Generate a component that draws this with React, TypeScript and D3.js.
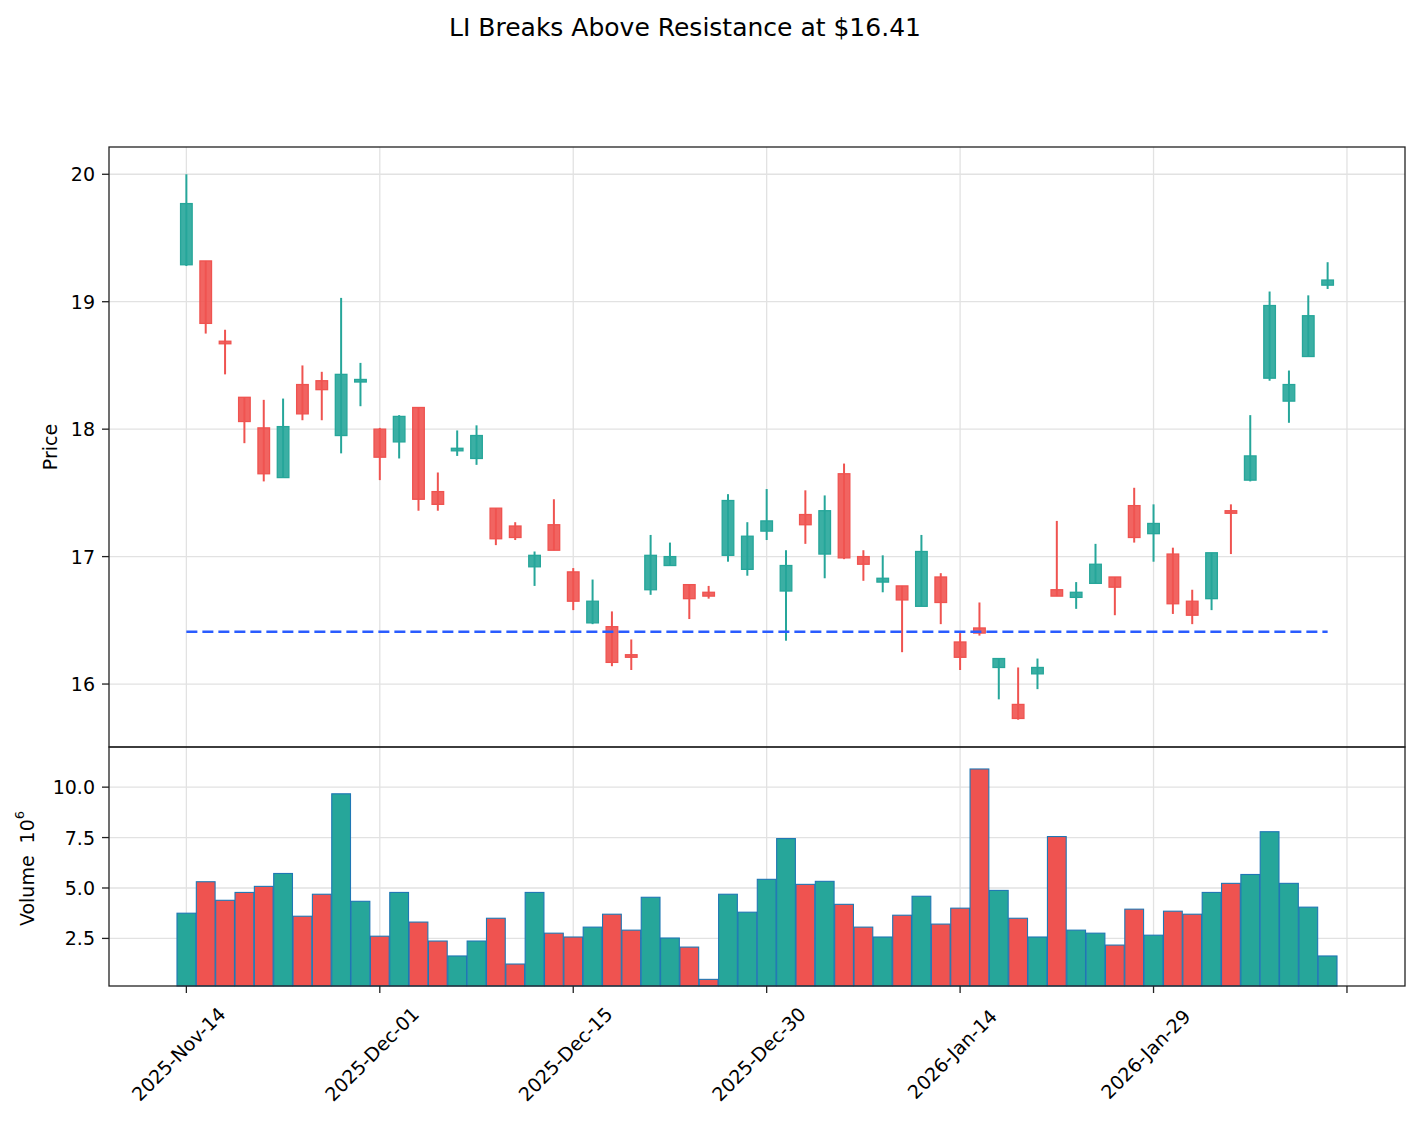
import React from "react";
import * as d3 from "d3";

// trading days, one per candle
const dates = [
  "2025-11-14", "2025-11-17", "2025-11-18", "2025-11-19", "2025-11-20", "2025-11-21",
  "2025-11-24", "2025-11-25", "2025-11-26", "2025-11-28", "2025-12-01", "2025-12-02",
  "2025-12-03", "2025-12-04", "2025-12-05", "2025-12-08", "2025-12-09", "2025-12-10",
  "2025-12-11", "2025-12-12", "2025-12-15", "2025-12-16", "2025-12-17", "2025-12-18",
  "2025-12-19", "2025-12-22", "2025-12-23", "2025-12-24", "2025-12-26", "2025-12-29",
  "2025-12-30", "2025-12-31", "2026-01-02", "2026-01-05", "2026-01-06", "2026-01-07",
  "2026-01-08", "2026-01-09", "2026-01-12", "2026-01-13", "2026-01-14", "2026-01-15",
  "2026-01-16", "2026-01-20", "2026-01-21", "2026-01-22", "2026-01-23", "2026-01-26",
  "2026-01-27", "2026-01-28", "2026-01-29", "2026-01-30", "2026-02-02", "2026-02-03",
  "2026-02-04", "2026-02-05", "2026-02-06", "2026-02-09", "2026-02-10", "2026-02-11",
];

const opens = [
  19.29, 19.32, 18.69, 18.25, 18.01, 17.62, 18.35, 18.38, 17.95, 18.37,
  18.0, 17.9, 18.17, 17.51, 17.83, 17.77, 17.38, 17.24, 16.92, 17.25,
  16.88, 16.48, 16.45, 16.23, 16.74, 16.93, 16.78, 16.72, 17.01, 16.9,
  17.2, 16.73, 17.33, 17.02, 17.65, 17.0, 16.8, 16.77, 16.61, 16.84,
  16.33, 16.44, 16.13, 15.84, 16.08, 16.74, 16.68, 16.79, 16.84, 17.4,
  17.18, 17.02, 16.65, 16.67, 17.36, 17.6, 18.4, 18.22, 18.57, 19.13,
];
const highs = [
  20.0, 19.32, 18.78, 18.25, 18.23, 18.24, 18.5, 18.45, 19.03, 18.52,
  18.01, 18.11, 18.17, 17.66, 17.99, 18.03, 17.38, 17.27, 17.04, 17.45,
  16.91, 16.82, 16.57, 16.35, 17.17, 17.11, 16.78, 16.77, 17.49, 17.27,
  17.53, 17.05, 17.52, 17.48, 17.73, 17.05, 17.01, 16.77, 17.17, 16.87,
  16.4, 16.64, 16.2, 16.13, 16.2, 17.28, 16.8, 17.1, 16.84, 17.54,
  17.41, 17.07, 16.74, 17.03, 17.41, 18.11, 19.08, 18.46, 19.05, 19.31,
];
const lows = [
  19.28, 18.75, 18.43, 17.89, 17.59, 17.62, 18.07, 18.07, 17.81, 18.18,
  17.6, 17.77, 17.36, 17.36, 17.79, 17.72, 17.09, 17.13, 16.77, 17.05,
  16.58, 16.47, 16.14, 16.11, 16.7, 16.93, 16.51, 16.67, 16.96, 16.85,
  17.13, 16.34, 17.1, 16.83, 16.98, 16.81, 16.72, 16.25, 16.61, 16.47,
  16.11, 16.38, 15.88, 15.72, 15.96, 16.69, 16.59, 16.79, 16.54, 17.11,
  16.96, 16.55, 16.47, 16.58, 17.02, 17.59, 18.38, 18.05, 18.57, 19.1,
];
const closes = [
  19.77, 18.83, 18.67, 18.06, 17.65, 18.02, 18.12, 18.31, 18.43, 18.39,
  17.78, 18.1, 17.45, 17.41, 17.85, 17.95, 17.14, 17.15, 17.01, 17.05,
  16.65, 16.65, 16.17, 16.21, 17.01, 17.0, 16.67, 16.69, 17.44, 17.16,
  17.28, 16.93, 17.25, 17.36, 16.99, 16.94, 16.83, 16.66, 17.04, 16.64,
  16.21, 16.4, 16.2, 15.73, 16.13, 16.69, 16.72, 16.94, 16.76, 17.15,
  17.26, 16.63, 16.54, 17.03, 17.34, 17.79, 18.97, 18.35, 18.89, 19.17,
];
const volumeMillions = [
  3.75, 5.31, 4.39, 4.78, 5.08, 5.72, 3.6, 4.69, 9.67, 4.34,
  2.61, 4.78, 3.31, 2.37, 1.63, 2.37, 3.5, 1.23, 4.78, 2.76,
  2.57, 3.06, 3.7, 2.91, 4.54, 2.52, 2.07, 0.47, 4.69, 3.8,
  5.43, 7.45, 5.18, 5.33, 4.19, 3.06, 2.57, 3.65, 4.59, 3.21,
  4.0, 10.9, 4.88, 3.5, 2.57, 7.55, 2.91, 2.76, 2.17, 3.95,
  2.66, 3.85, 3.7, 4.78, 5.23, 5.67, 7.79, 5.23, 4.05, 1.63,
];
const volumeTicks = [2.5, 5.0, 7.5, 10.0];
const resistance = 16.41;
const title = "LI Breaks Above Resistance at $16.41";

const UP = "#26a69a";
const DOWN = "#ef5350";
const FONT = "DejaVu Sans, sans-serif";

export default function App() {
  const W = 1420, H = 1126;
  const left = 109, right = 1405, top = 147, split = 747, bottom = 986;
  const n = dates.length;

  const x = d3.scaleLinear().domain([-4, n + 3]).range([left, right]);
  const unit = x(1) - x(0);

  const lo = d3.min(lows)!, hi = d3.max(highs)!;
  const pad = (hi - lo) * 0.05;
  const yP = d3.scaleLinear().domain([lo - pad, hi + pad]).range([split, top]);
  const yV = d3.scaleLinear()
    .domain([0.3 * d3.min(volumeMillions)!, 1.1 * d3.max(volumeMillions)!])
    .range([bottom, split]);

  const parse = d3.timeParse("%Y-%m-%d");
  const fmt = d3.timeFormat("%Y-%b-%d");
  const xTicks = d3.range(0, n + 1, 10);
  const priceTicks = yP.ticks(5);

  const grid = "#e2e2e2";
  const spine = "#222";

  return (
    <svg width={W} height={H} style={{ position: "absolute", left: 0, top: 0, background: "#fff" }}
      fontFamily={FONT}>
      <text x={685} y={36} fontSize={25} textAnchor="middle">{title}</text>

      {/* grid */}
      {xTicks.map(t => (
        <g key={"vg" + t}>
          <line x1={x(t)} x2={x(t)} y1={top} y2={split} stroke={grid} strokeWidth={1.3} />
          <line x1={x(t)} x2={x(t)} y1={split} y2={bottom} stroke={grid} strokeWidth={1.3} />
        </g>
      ))}
      {priceTicks.map(t => (
        <line key={"pg" + t} x1={left} x2={right} y1={yP(t)} y2={yP(t)} stroke={grid} strokeWidth={1.3} />
      ))}
      {volumeTicks.map(t => (
        <line key={"vgh" + t} x1={left} x2={right} y1={yV(t)} y2={yV(t)} stroke={grid} strokeWidth={1.3} />
      ))}

      {/* candles */}
      {dates.map((d, i) => {
        const up = closes[i] >= opens[i];
        const c = up ? UP : DOWN;
        const bw = unit * 0.6;
        const yTop = yP(Math.max(opens[i], closes[i]));
        const yBot = yP(Math.min(opens[i], closes[i]));
        return (
          <g key={"c" + d}>
            <line x1={x(i)} x2={x(i)} y1={yP(highs[i])} y2={yP(lows[i])} stroke={c} strokeWidth={2} />
            <rect x={x(i) - bw / 2} y={yTop} width={bw} height={Math.max(yBot - yTop, 1)}
              fill={c} fillOpacity={0.9} stroke={c} strokeWidth={1.3} />
          </g>
        );
      })}

      {/* resistance */}
      <line x1={x(0)} x2={x(n - 1)} y1={yP(resistance)} y2={yP(resistance)}
        stroke="#2a5cff" strokeWidth={2.6} strokeDasharray="11 5" />

      {/* volume */}
      {volumeMillions.map((v, i) => {
        const up = closes[i] >= opens[i];
        const bw = unit * 0.97;
        return (
          <rect key={"v" + i} x={x(i) - bw / 2} y={yV(v)} width={bw} height={bottom - yV(v)}
            fill={up ? UP : DOWN} stroke="#1f77b4" strokeWidth={1.1} />
        );
      })}

      {/* frames */}
      <rect x={left} y={top} width={right - left} height={split - top} fill="none" stroke={spine} strokeWidth={1.3} />
      <rect x={left} y={split} width={right - left} height={bottom - split} fill="none" stroke={spine} strokeWidth={1.3} />

      {/* price axis */}
      {priceTicks.map(t => (
        <g key={"pt" + t}>
          <line x1={left - 7} x2={left} y1={yP(t)} y2={yP(t)} stroke={spine} strokeWidth={1.3} />
          <text x={left - 14} y={yP(t)} fontSize={19} textAnchor="end" dominantBaseline="central">{t}</text>
        </g>
      ))}
      <text transform={`translate(50,${(top + split) / 2}) rotate(-90)`} fontSize={19} textAnchor="middle"
        dominantBaseline="central">Price</text>

      {/* volume axis */}
      {volumeTicks.map(t => (
        <g key={"vt" + t}>
          <line x1={left - 7} x2={left} y1={yV(t)} y2={yV(t)} stroke={spine} strokeWidth={1.3} />
          <text x={left - 14} y={yV(t)} fontSize={19} textAnchor="end" dominantBaseline="central">{t.toFixed(1)}</text>
        </g>
      ))}
      <text transform={`translate(27,${(split + bottom) / 2 + 2}) rotate(-90)`} fontSize={19} textAnchor="middle"
        dominantBaseline="central">
        Volume<tspan dx={12}>10</tspan><tspan fontSize={13} dy={-8}>6</tspan>
      </text>

      {/* x axis */}
      {xTicks.map(t => (
        <g key={"xt" + t}>
          <line x1={x(t)} x2={x(t)} y1={bottom} y2={bottom + 7} stroke={spine} strokeWidth={1.3} />
          {t < n && (
            <text transform={`translate(${x(t) - 8},${bottom + 68}) rotate(-45)`} fontSize={19}
              textAnchor="middle" dominantBaseline="central">
              {fmt(parse(dates[t])!)}
            </text>
          )}
        </g>
      ))}
    </svg>
  );
}
